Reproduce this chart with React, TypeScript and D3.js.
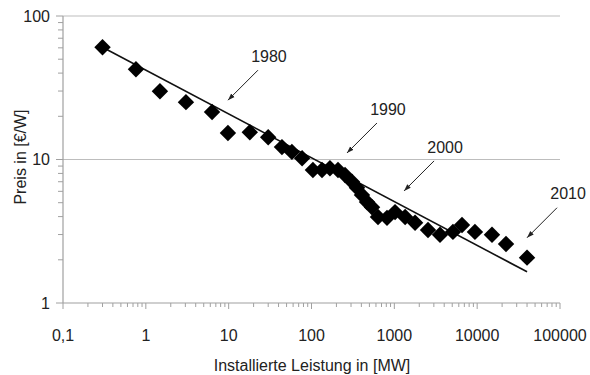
import { useRef, useEffect } from 'react'
import * as d3 from 'd3'

// installed capacity [MW] vs price [€/W]
const capacity = [
  0.3, 0.76, 1.48, 3.05, 6.3, 9.8, 18, 30, 44, 58, 77, 104, 134, 167, 209, 254, 308, 354,
  407, 468, 538, 635, 816, 1020, 1350, 1780, 2550, 3560, 5100, 6560, 9400, 15100, 22300, 40000,
]
const price = [
  60.6, 42.6, 29.9, 25.1, 21.4, 15.3, 15.5, 14.3, 12.2, 11.3, 10.2, 8.45, 8.45, 8.7, 8.45, 7.8, 7.0, 6.35,
  5.65, 5.05, 4.65, 3.98, 3.92, 4.3, 3.98, 3.62, 3.23, 2.99, 3.13, 3.5, 3.13, 2.99, 2.58, 2.07,
]

// fitted power-law line, endpoints
const trendX = [0.3, 40000]
const trendY = [60.6, 1.65]

// year annotations: arrow tips in data coordinates
const years = ['1980', '1990', '2000', '2010']
const yearX = [9.8, 268, 1310, 40000]
const yearY = [25.9, 11.1, 6.04, 2.85]

const xTicks = [0.1, 1, 10, 100, 1000, 10000, 100000]
const xTickLabels = ['0,1', '1', '10', '100', '1000', '10000', '100000']
const yTicks = [1, 10, 100]
const yTickLabels = ['1', '10', '100']

const FONT = 'Liberation Sans, Arial, sans-serif'
const TEXT = '#222'

export default function App() {
  const svgRef = useRef<SVGSVGElement>(null)

  useEffect(() => {
    if (!svgRef.current) return
    const svg = d3.select(svgRef.current)
    svg.selectAll('*').remove()

    const width = 590
    const height = 375
    const margin = { top: 16, right: 30, bottom: 72, left: 63 }

    const x = d3.scaleLog().domain([0.1, 100000]).range([margin.left, width - margin.right])
    const y = d3.scaleLog().domain([1, 100]).range([height - margin.bottom, margin.top])

    // gridlines at 10 and 100
    svg.append('g')
      .selectAll('line')
      .data([10, 100])
      .join('line')
      .attr('x1', margin.left).attr('x2', width - margin.right)
      .attr('y1', d => y(d)).attr('y2', d => y(d))
      .attr('stroke', '#bdbdbd').attr('stroke-width', 1.2)

    // minor ticks
    const xMinor: number[] = []
    for (let e = -1; e < 5; e++) for (let k = 2; k <= 9; k++) xMinor.push(k * Math.pow(10, e))
    const yMinor: number[] = []
    for (let e = 0; e < 2; e++) for (let k = 2; k <= 9; k++) yMinor.push(k * Math.pow(10, e))

    const axisColor = '#a0a0a0'
    const xAxis = svg.append('g')
    xAxis.append('line')
      .attr('x1', margin.left).attr('x2', width - margin.right)
      .attr('y1', y(1)).attr('y2', y(1))
      .attr('stroke', axisColor).attr('stroke-width', 1.2)
    xAxis.selectAll('.minor')
      .data(xMinor)
      .join('line')
      .attr('class', 'minor')
      .attr('x1', d => x(d)).attr('x2', d => x(d))
      .attr('y1', y(1)).attr('y2', y(1) + 4)
      .attr('stroke', axisColor)
    xAxis.selectAll('.major')
      .data(xTicks)
      .join('line')
      .attr('class', 'major')
      .attr('x1', d => x(d)).attr('x2', d => x(d))
      .attr('y1', y(1)).attr('y2', y(1) + 6)
      .attr('stroke', axisColor)
    xAxis.selectAll('text')
      .data(xTicks)
      .join('text')
      .attr('x', d => x(d))
      .attr('y', y(1) + 38)
      .attr('text-anchor', 'middle')
      .style('font-family', FONT).style('font-size', '16px').style('fill', TEXT)
      .text((_, i) => xTickLabels[i])

    const yAxis = svg.append('g')
    yAxis.append('line')
      .attr('x1', margin.left).attr('x2', margin.left)
      .attr('y1', y(1)).attr('y2', y(100))
      .attr('stroke', axisColor).attr('stroke-width', 1.2)
    yAxis.selectAll('.minor')
      .data(yMinor)
      .join('line')
      .attr('class', 'minor')
      .attr('x1', margin.left - 5).attr('x2', margin.left)
      .attr('y1', d => y(d)).attr('y2', d => y(d))
      .attr('stroke', axisColor)
    yAxis.selectAll('.major')
      .data(yTicks)
      .join('line')
      .attr('class', 'major')
      .attr('x1', margin.left - 7).attr('x2', margin.left)
      .attr('y1', d => y(d)).attr('y2', d => y(d))
      .attr('stroke', axisColor)
    yAxis.selectAll('text')
      .data(yTicks)
      .join('text')
      .attr('x', margin.left - 13)
      .attr('y', d => y(d))
      .attr('dy', '0.35em')
      .attr('text-anchor', 'end')
      .style('font-family', FONT).style('font-size', '16px').style('fill', TEXT)
      .text((_, i) => yTickLabels[i])

    // axis titles
    svg.append('text')
      .attr('x', 312)
      .attr('y', height - 4)
      .attr('text-anchor', 'middle')
      .style('font-family', FONT).style('font-size', '16px').style('fill', TEXT)
      .text('Installierte Leistung in [MW]')

    svg.append('text')
      .attr('transform', 'rotate(-90)')
      .attr('x', -157).attr('y', 26)
      .attr('text-anchor', 'middle')
      .style('font-family', FONT).style('font-size', '16px').style('fill', TEXT)
      .text('Preis in [€/W]')

    // trend line
    const line = d3.line<number>()
      .x((_, i) => x(trendX[i]))
      .y(d => y(d))
    svg.append('path')
      .attr('d', line(trendY))
      .attr('fill', 'none')
      .attr('stroke', '#111')
      .attr('stroke-width', 1.6)

    // diamonds
    const sym = d3.symbol().type(d3.symbolSquare).size(135)
    svg.append('g')
      .selectAll('path')
      .data(capacity)
      .join('path')
      .attr('d', sym)
      .attr('transform', (d, i) => `translate(${x(d)},${y(price[i])}) rotate(45)`)
      .attr('fill', '#000')

    // annotations
    const defs = svg.append('defs')
    defs.append('marker')
      .attr('id', 'arr')
      .attr('viewBox', '0 0 10 10')
      .attr('refX', 10).attr('refY', 5)
      .attr('markerWidth', 7).attr('markerHeight', 7)
      .attr('orient', 'auto')
      .append('path')
      .attr('d', 'M0,1.5 L10,5 L0,8.5 Z')
      .attr('fill', '#222')

    const ann = svg.append('g')
    years.forEach((label, i) => {
      const tx = x(yearX[i])
      const ty = y(yearY[i])
      ann.append('line')
        .attr('x1', tx + 30).attr('y1', ty - 30)
        .attr('x2', tx).attr('y2', ty)
        .attr('stroke', '#222').attr('stroke-width', 1)
        .attr('marker-end', 'url(#arr)')
      ann.append('text')
        .attr('x', tx + 41).attr('y', ty - 44)
        .attr('dy', '0.35em')
        .attr('text-anchor', 'middle')
        .style('font-family', FONT).style('font-size', '16px').style('fill', TEXT)
        .text(label)
    })
  }, [])

  return (
    <svg
      ref={svgRef}
      width={590}
      height={375}
      style={{ position: 'absolute', left: 0, top: 0, background: '#fff' }}
    />
  )
}
